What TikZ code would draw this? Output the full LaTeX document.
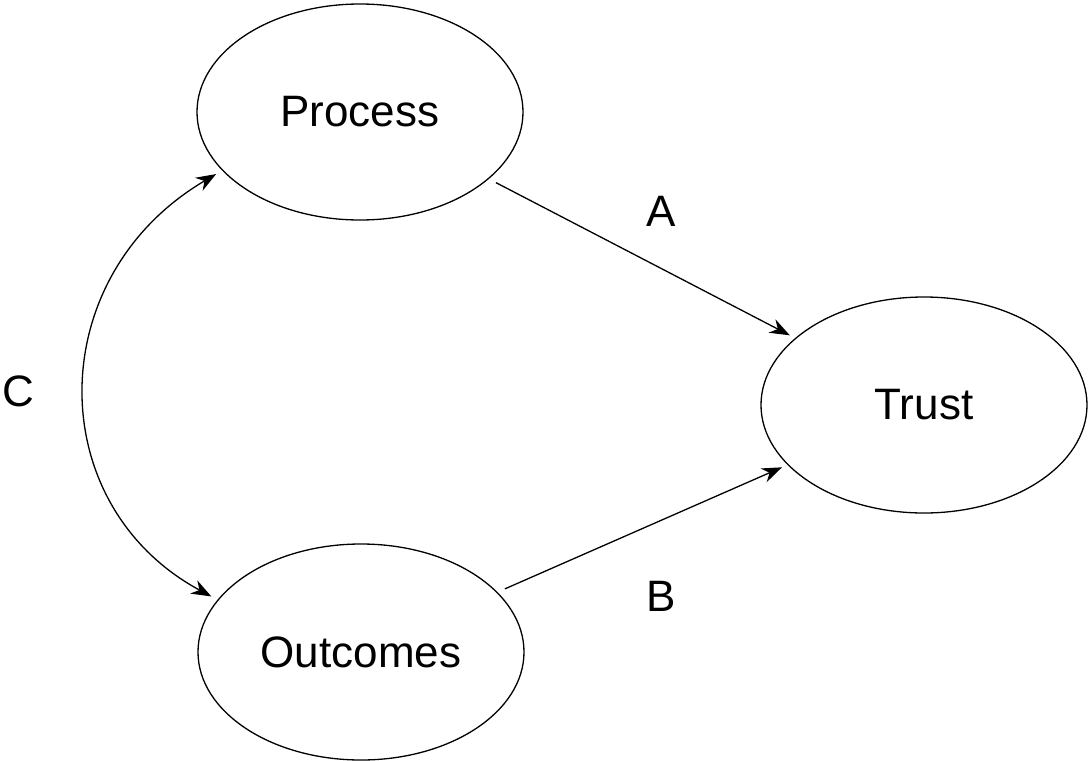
\documentclass[tikz,border=0pt]{standalone}
\usepackage{fontspec}
\setmainfont{Liberation Sans}
\usetikzlibrary{shapes.geometric,arrows.meta}
\begin{document}
\begin{tikzpicture}[x=1pt,y=-1pt,
  bubble/.style={draw,ellipse,line width=1.3pt,minimum width=326pt,minimum height=216pt,inner sep=0pt,font=\fontsize{44}{50}\selectfont},
  lab/.style={inner sep=0pt,font=\fontsize{44}{50}\selectfont},
  conn/.style={line width=1.3pt,-{Stealth[length=20pt,width=15pt]}},
  biconn/.style={line width=1.3pt,{Stealth[length=20pt,width=15pt]}-{Stealth[length=20pt,width=15pt]}}]
\useasboundingbox (0,0) rectangle (1088,761);
\node[bubble] (P) at (360,112) {Process};
\node[bubble] (T) at (924,405) {Trust};
\node[bubble] (O) at (361,652) {Outcomes};
\node[lab] (A) at (661,211) {A};
\node[lab] (B) at (661,596) {B};
\node[lab] (C) at (18,391) {C};
\draw[conn,shorten <=8pt,shorten >=6pt] (P) -- (T);
\draw[conn,shorten <=8pt,shorten >=6pt] (O) -- (T);
\draw[biconn,shorten <=7pt,shorten >=7pt] (P.203) .. controls +(-180,106) and +(-176,-95) .. (O.160);
\end{tikzpicture}
\end{document}
